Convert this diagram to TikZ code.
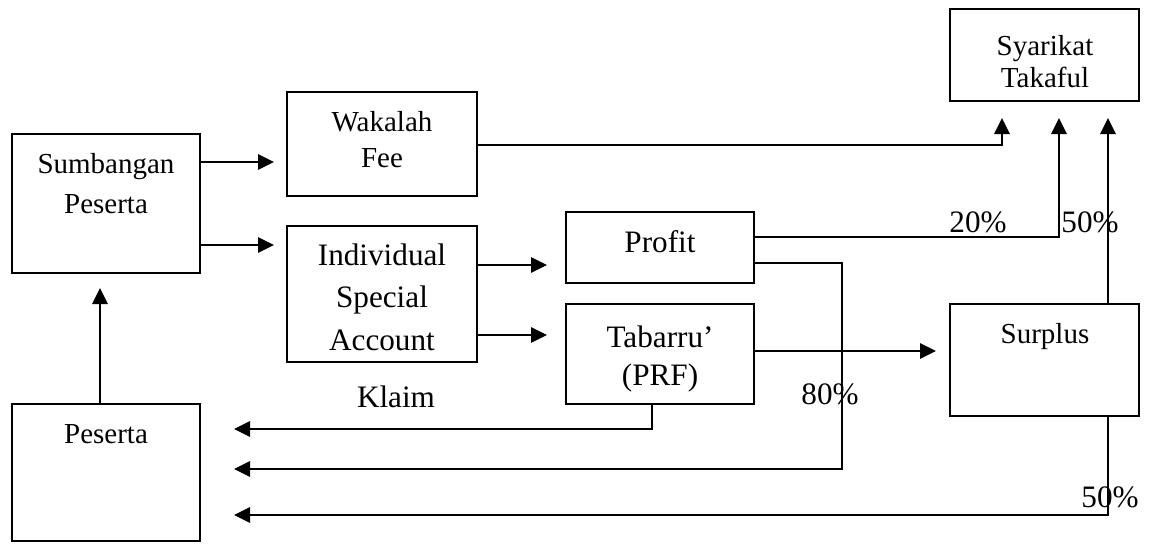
\documentclass[tikz,border=0pt]{standalone}
\usepackage{fontspec}
\setmainfont{Liberation Serif}
\usetikzlibrary{arrows.meta,fit}
\begin{document}
\begin{tikzpicture}[x=0.5pt,y=-0.5pt,
  box/.style={draw, line width=1pt, inner sep=0pt},
  txt/.style={anchor=base, inner sep=0pt, font=\fontsize{14.5}{17}\selectfont},
  txtl/.style={anchor=base, inner sep=0pt, font=\fontsize{15.6}{18}\selectfont},
  arr/.style={draw, line width=1.4pt, -{Triangle[length=8pt,width=7.5pt]}},
]
\useasboundingbox (0,0) rectangle (1151,543);
% boxes
\node[box, fit={(12,134) (200,273)}] (sp) {};
\node[box, fit={(287,92) (477,196)}] (wf) {};
\node[box, fit={(287,226) (477,362)}] (isa) {};
\node[box, fit={(566,212) (754,283)}] (pr) {};
\node[box, fit={(566,304) (754,404)}] (tb) {};
\node[box, fit={(950,304) (1139,416)}] (su) {};
\node[box, fit={(950,9) (1139,101)}] (st) {};
\node[box, fit={(12,404) (200,541)}] (pe) {};
% texts
\node[txt] (t1) at (106,173) {Sumbangan};
\node[txt] (t2) at (106,213) {Peserta};
\node[txt] (t3) at (382,131) {Wakalah};
\node[txt] (t4) at (382,167) {Fee};
\node[txtl] (t5) at (382,265) {Individual};
\node[txtl] (t6) at (382,307) {Special};
\node[txtl] (t7) at (382,350) {Account};
\node[txtl] (t8) at (660,252) {Profit};
\node[txtl] (t9) at (660,347) {Tabarru’};
\node[txtl] (t10) at (660,385) {(PRF)};
\node[txt] (t11) at (1045,343) {Surplus};
\node[txt] (t12) at (1045,55) {Syarikat};
\node[txt] (t13) at (1045,87) {Takaful};
\node[txt] (t14) at (106,443) {Peserta};
\node[txtl] (t15) at (396,407) {Klaim};
\node[txtl] (t16) at (830,404) {80\%};
\node[txtl] (t17) at (978,232) {20\%};
\node[txtl] (t18) at (1090,232) {50\%};
\node[txtl] (t19) at (1110,507) {50\%};
% connectors
\draw[arr, shorten >=6pt] (sp.east |- 0,162) -- (wf.west |- 0,162);
\draw[arr, shorten >=6pt] (sp.east |- 0,245) -- (isa.west |- 0,245);
\draw[arr, shorten >=9pt] (isa.east |- 0,265) -- (pr.west |- 0,265);
\draw[arr, shorten >=9pt] (isa.east |- 0,335) -- (tb.west |- 0,335);
\draw[arr, shorten >=8pt] (wf.east |- 0,145) -| (st.south -| 1002,0);
\draw[arr, shorten >=8pt] (pr.east |- 0,237) -| (st.south -| 1059,0);
\draw[arr, shorten >=8pt] (su.north -| 1108,0) -- (st.south -| 1108,0);
\draw[arr, shorten >=6.5pt] (tb.east |- 0,351) -- (su.west |- 0,351);
\coordinate (c80) at (842,469);
\draw[arr, shorten >=16.5pt] (pr.east |- 0,263) -| (c80) -- (pe.east |- c80);
\draw[arr, shorten >=16.5pt] (tb.south -| 652,0) |- (pe.east |- 0,429);
\draw[arr, shorten >=16.5pt] (su.south -| 1108,0) |- (pe.east |- 0,515);
\draw[arr, shorten >=7pt] (pe.north -| 100,0) -- (sp.south -| 100,0);
\end{tikzpicture}
\end{document}
